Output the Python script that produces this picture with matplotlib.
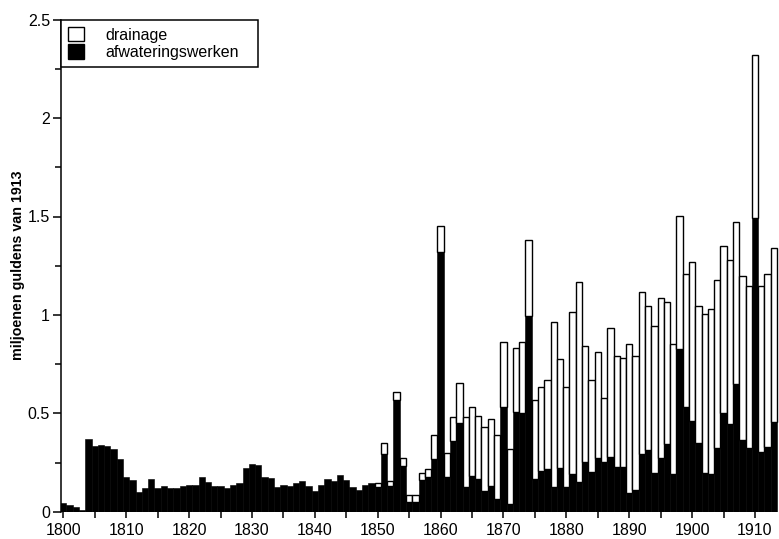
import numpy as np
import matplotlib
matplotlib.use("Agg")
import matplotlib.pyplot as plt
from matplotlib.patches import Patch
from matplotlib.ticker import MultipleLocator

plt.rcParams['font.family'] = ['Liberation Sans', 'DejaVu Sans']

years = np.arange(1800, 1914)

# afwateringswerken (zwart), miljoenen guldens van 1913
afwatering = [
    0.045, 0.032, 0.025, 0.008, 0.368, 0.335, 0.340, 0.334, 0.320, 0.270,   # 1800-1809
    0.175, 0.162, 0.100, 0.120, 0.165, 0.120, 0.130, 0.120, 0.120, 0.130,   # 1810-1819
    0.135, 0.135, 0.175, 0.150, 0.130, 0.130, 0.118, 0.135, 0.147, 0.220,   # 1820-1829
    0.240, 0.235, 0.175, 0.170, 0.128, 0.136, 0.130, 0.148, 0.156, 0.130,   # 1830-1839
    0.105, 0.136, 0.167, 0.158, 0.186, 0.160, 0.123, 0.110, 0.136, 0.148,   # 1840-1849
    0.125, 0.295, 0.130, 0.567, 0.232, 0.051, 0.051, 0.160, 0.178, 0.266,   # 1850-1859
    1.321, 0.175, 0.360, 0.452, 0.124, 0.183, 0.165, 0.105, 0.130, 0.063,   # 1860-1869
    0.530, 0.040, 0.508, 0.503, 0.996, 0.165, 0.208, 0.217, 0.127, 0.220,   # 1870-1879
    0.127, 0.190, 0.149, 0.251, 0.200, 0.271, 0.251, 0.280, 0.229, 0.229,   # 1880-1889
    0.097, 0.110, 0.293, 0.314, 0.198, 0.271, 0.342, 0.190, 0.828, 0.534,   # 1890-1899
    0.462, 0.351, 0.198, 0.190, 0.322, 0.503, 0.444, 0.647, 0.364, 0.322,   # 1900-1909
    1.490, 0.305, 0.330, 0.457,                                             # 1910-1913
]

# drainage (wit), bovenop afwateringswerken
drainage = [0.0] * 50 + [
    0.020, 0.052, 0.025, 0.043, 0.042, 0.035, 0.035, 0.035, 0.037, 0.124,   # 1850-1859
    0.131, 0.122, 0.120, 0.200, 0.356, 0.347, 0.323, 0.324, 0.339, 0.325,   # 1860-1869
    0.334, 0.280, 0.325, 0.361, 0.384, 0.402, 0.424, 0.452, 0.838, 0.554,   # 1870-1879
    0.505, 0.826, 1.020, 0.591, 0.469, 0.542, 0.328, 0.655, 0.562, 0.554,   # 1880-1889
    0.755, 0.681, 0.823, 0.731, 0.747, 0.816, 0.725, 0.662, 0.676, 0.674,   # 1890-1899
    0.808, 0.694, 0.807, 0.838, 0.855, 0.847, 0.835, 0.825, 0.834, 0.825,   # 1900-1909
    0.830, 0.842, 0.878, 0.881,                                             # 1910-1913
]

afwatering = np.array(afwatering)
drainage = np.array(drainage)

fig = plt.figure(figsize=(7.79, 5.39), dpi=100)
ax = fig.add_axes([61 / 779, 27.3 / 539, 718 / 779, 492 / 539])

ax.bar(years, afwatering, width=1.0, color='black', edgecolor='black', linewidth=0.4)
mask = drainage > 0
ax.bar(years[mask], drainage[mask], width=1.0, bottom=afwatering[mask],
       color='white', edgecolor='black', linewidth=1.0)

ax.set_xlim(1799.63, 1913.82)
ax.set_ylim(0, 2.5)

ax.xaxis.set_major_locator(MultipleLocator(10))
ax.xaxis.set_minor_locator(MultipleLocator(5))
ax.yaxis.set_minor_locator(MultipleLocator(0.25))
ax.set_yticks([0, 0.5, 1, 1.5, 2, 2.5])
ax.set_yticklabels(['0', '0.5', '1', '1.5', '2', '2.5'])

ax.tick_params(axis='both', which='both', direction='out', width=1.1, labelsize=11.5)
ax.tick_params(axis='y', which='major', length=6, pad=2)
ax.tick_params(axis='y', which='minor', length=4)
ax.tick_params(axis='x', which='both', length=4, pad=4)

for side in ['top', 'right', 'bottom']:
    ax.spines[side].set_visible(False)
ax.spines['left'].set_linewidth(1.1)

ax.set_ylabel('miljoenen guldens van 1913', fontsize=10.3, fontweight='bold')
ax.yaxis.set_label_coords(-0.05, 0.5)

handles = [Patch(facecolor='white', edgecolor='black', linewidth=1.0, label='drainage'),
           Patch(facecolor='black', edgecolor='black', label='afwateringswerken')]
leg = ax.legend(handles=handles, loc='upper left', bbox_to_anchor=(0, 1, 197 / 718, 0),
                mode='expand', borderaxespad=0, fontsize=11.5, fancybox=False,
                framealpha=1, handlelength=1.0, handleheight=1.0, labelspacing=0.12,
                borderpad=0.45, handletextpad=1.3)
leg.get_frame().set_edgecolor('black')
leg.get_frame().set_linewidth(1.1)

fig.savefig('out.png', dpi=100)
